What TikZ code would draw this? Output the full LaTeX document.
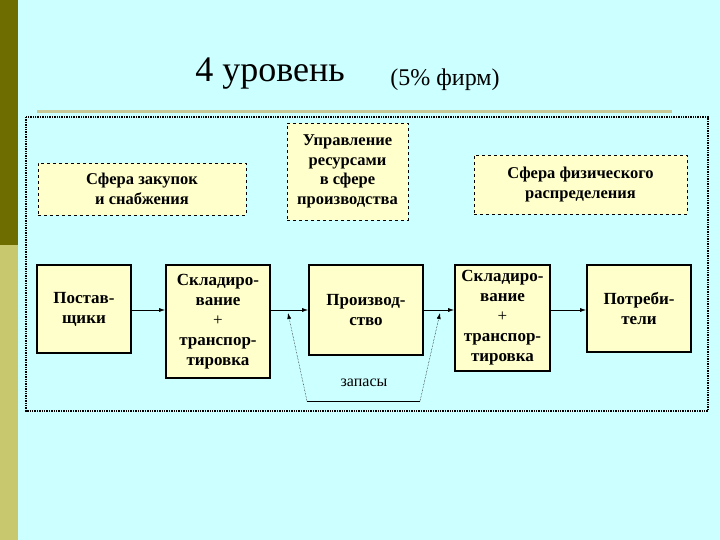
\documentclass[tikz,border=0pt]{standalone}
\usepackage{fontspec}
\setmainfont{Liberation Serif}
\usetikzlibrary{arrows.meta}
\definecolor{bg}{HTML}{CCFFFF}
\definecolor{boxf}{HTML}{FFFFCC}
\definecolor{olive}{HTML}{6E6E00}
\definecolor{lolive}{HTML}{C8C86E}
\definecolor{rule}{HTML}{C8C896}
\begin{document}
\begin{tikzpicture}[x=1pt,y=-1pt,
 dbox/.style={draw,dashed,fill=boxf,align=center,font=\bfseries\fontsize{16.5}{19.5}\selectfont,inner sep=0pt},
 sbox/.style={draw,line width=1.6pt,fill=boxf,align=center,font=\bfseries\fontsize{17}{20}\selectfont,inner sep=0pt},
 arr/.style={-{Latex[length=6pt,width=4pt]},line width=0.8pt}]
\useasboundingbox (0,0) rectangle (720,540);
\fill[bg] (0,0) rectangle (720,540);
\fill[olive] (0,0) rectangle (18,245);
\fill[lolive] (0,245) rectangle (18,540);
\node[font=\fontsize{36}{40}\selectfont] (t1) at (270,74) {4 уровень};
\node[font=\fontsize{24}{28}\selectfont] (t2) at (445,80) {(5\% фирм)};
\draw[rule,line width=3pt] (37,112) -- (672,112);
\draw[densely dotted,line width=1.4pt] (26,117) rectangle (708,411);
\node[dbox,minimum width=208pt,minimum height=52pt] (a) at (142,189) {Сфера закупок\\и снабжения};
\node[dbox,minimum width=121pt,minimum height=97pt] (b) at (347.5,171.5) {Управление\\ресурсами\\в сфере\\производства};
\node[dbox,minimum width=213pt,minimum height=59pt] (c) at (580.5,184.5) {Сфера физического\\распределения};
\node[sbox,minimum width=94pt,minimum height=88pt] (p1) at (84,309) {Постав-\\щики};
\node[sbox,minimum width=104pt,minimum height=113pt] (p2) at (218,321.5) {Складиро-\\вание\\{\mdseries +}\\транспор-\\тировка};
\node[sbox,minimum width=114pt,minimum height=90pt] (p3) at (366,310) {Производ-\\ство};
\node[sbox,minimum width=95pt,minimum height=106pt] (p4) at (502.5,318) {Складиро-\\вание\\{\mdseries +}\\транспор-\\тировка};
\node[sbox,minimum width=104pt,minimum height=87pt] (p5) at (639,308.5) {Потреби-\\тели};
\draw[arr] (p1.east|-0,310) -- (p2.west|-0,310);
\draw[arr] (p2.east|-0,310) -- (p3.west|-0,310);
\draw[arr] (p3.east|-0,310) -- (p4.west|-0,310);
\draw[arr] (p4.east|-0,310) -- (p5.west|-0,310);
\coordinate (z1) at (307,401);
\coordinate (z2) at (420,401);
\coordinate (e1) at (288,313);
\coordinate (e2) at (440,313);
\draw[line width=0.6pt] (z1) -- (z2);
\draw[arr,line width=0.5pt,densely dotted] (z1) -- (e1);
\draw[arr,line width=0.5pt,densely dotted] (z2) -- (e2);
\node[font=\fontsize{16}{18}\selectfont] (zl) at (364,383) {запасы};
\end{tikzpicture}
\end{document}
